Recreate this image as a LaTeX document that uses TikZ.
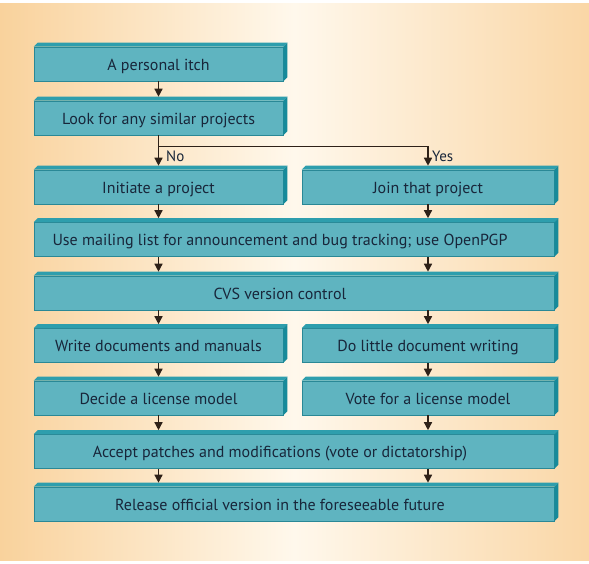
\documentclass[tikz,border=0pt]{standalone}
\usepackage{fontspec}
\setmainfont{PT Sans}
\usetikzlibrary{arrows.meta,calc}
\definecolor{bgO}{HTML}{F9D29C}
\definecolor{bgW}{HTML}{FFF8EC}
\definecolor{face}{HTML}{5FB4C0}
\definecolor{bevel}{HTML}{2E9EAD}
\definecolor{side}{HTML}{178A9A}
\definecolor{edge}{HTML}{2A8896}
\definecolor{ink}{HTML}{18263A}
\definecolor{arrowc}{HTML}{2E2118}
\tikzset{
  flowbox/.style={draw=edge, line width=0.6pt, fill=face, minimum height=34pt, inner sep=0pt,
    text height=12pt, text depth=0pt,
    text=ink, font=\fontsize{16}{19}\selectfont},
  leftbox/.style={flowbox, minimum width=249pt},
  rightbox/.style={flowbox, minimum width=252pt},
  widebox/.style={flowbox, minimum width=520pt, execute at begin node={\hspace*{-28pt}}},
  topbevel/.style={fill=bevel},
  sidebevel/.style={fill=side},
  flowarrow/.style={draw=arrowc, line width=1.4pt, -{Triangle[width=8pt,length=8pt]}},
  choice/.style={text=ink, font=\fontsize{15}{18}\selectfont, inner sep=0pt, anchor=west},
}
\begin{document}
\begin{tikzpicture}[x=1pt,y=-1pt]
\path[use as bounding box] (0,0) rectangle (589,563);
\fill[left color=bgO, right color=bgO!90!white, middle color=bgW] (0,3) rectangle (589,560);

\node[leftbox] (itch) at (158.5,64) {A personal itch};
\node[leftbox] (look) at (158.5,118) {Look for any similar projects};
\node[leftbox] (init) at (158.5,187) {Initiate a project};
\node[rightbox] (join) at (428,187) {Join that project};
\node[widebox] (mail) at (294,239.5) {Use mailing list for announcement and bug tracking; use OpenPGP};
\node[widebox] (cvs) at (294,293) {CVS version control};
\node[leftbox] (write) at (158.5,345.5) {Write documents and manuals};
\node[rightbox] (little) at (428,345.5) {Do little document writing};
\node[leftbox] (decide) at (158.5,398) {Decide a license model};
\node[rightbox] (vote) at (428,398) {Vote for a license model};
\node[widebox] (accept) at (294,451.5) {Accept patches and modifications (vote or dictatorship)};
\node[widebox] (release) at (294,504) {Release official version in the foreseeable future};

\foreach \n in {itch,look,init,join,mail,cvs,write,little,decide,vote,accept,release}{
  \fill[topbevel] (\n.north west) -- ([shift={(4pt,4pt)}]\n.north west)
     -- ([shift={(4pt,4pt)}]\n.north east) -- (\n.north east) -- cycle;
  \fill[sidebevel] (\n.north east) -- ([shift={(4pt,4pt)}]\n.north east)
     -- ([shift={(4pt,4pt)}]\n.south east) -- (\n.south east) -- cycle;
}

\draw[flowarrow] (itch.south) -- ($(look.north)+(0,4pt)$);
\coordinate (fork) at ($(look.south)+(0,-11pt)$);
\draw[flowarrow] (look.south) -- ($(init.north)+(0,4pt)$);
\draw[flowarrow] (fork) -| ($(join.north)+(0,4pt)$);
\node[choice] (no) at (166,156) {No};
\node[choice] (yes) at (432,156) {Yes};

\draw[flowarrow] (init.south) -- ($(init.south |- mail.north)+(0,4pt)$);
\draw[flowarrow] (join.south) -- ($(join.south |- mail.north)+(0,4pt)$);
\draw[flowarrow] (init.south |- mail.south) -- ($(init.south |- cvs.north)+(0,4pt)$);
\draw[flowarrow] (join.south |- mail.south) -- ($(join.south |- cvs.north)+(0,4pt)$);
\draw[flowarrow] (write.north |- cvs.south) -- ($(write.north)+(0,4pt)$);
\draw[flowarrow] (little.north |- cvs.south) -- ($(little.north)+(0,4pt)$);
\draw[flowarrow] (write.south) -- ($(decide.north)+(0,4pt)$);
\draw[flowarrow] (little.south) -- ($(vote.north)+(0,4pt)$);
\draw[flowarrow] (decide.south) -- ($(decide.south |- accept.north)+(0,4pt)$);
\draw[flowarrow] (vote.south) -- ($(vote.south |- accept.north)+(0,4pt)$);
\draw[flowarrow] (decide.south |- accept.south) -- ($(decide.south |- release.north)+(0,4pt)$);
\draw[flowarrow] (vote.south |- accept.south) -- ($(vote.south |- release.north)+(0,4pt)$);
\end{tikzpicture}
\end{document}
